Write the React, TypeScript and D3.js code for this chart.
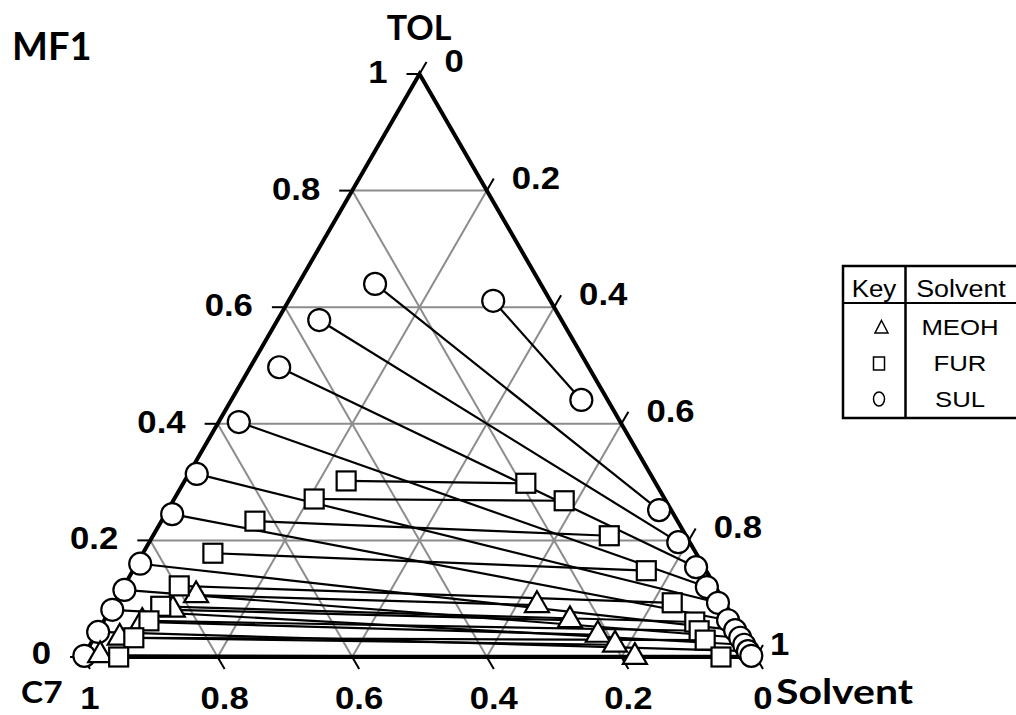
import React from "react";
import * as d3 from "d3";

// ternary compositions [TOL fraction, Solvent fraction]
const meohRaffinate: [number, number][] = [[0.106, 0.115], [0.081, 0.093], [0.060, 0.058], [0.033, 0.038], [0.003, 0.024]];
const meohExtract: [number, number][] = [[0.089, 0.630], [0.063, 0.692], [0.038, 0.746], [0.021, 0.780], [0.0, 0.820]];

const furRaffinate: [number, number][] = [[0.302, 0.240], [0.271, 0.208], [0.233, 0.139], [0.178, 0.104], [0.122, 0.082], [0.087, 0.072], [0.062, 0.067], [0.033, 0.059], [0.0, 0.053]];
const furExtract: [number, number][] = [[0.298, 0.509], [0.268, 0.581], [0.208, 0.678], [0.148, 0.763], [0.093, 0.829], [0.060, 0.879], [0.045, 0.893], [0.029, 0.910], [0.0, 0.948]];

const sulRaffinate: [number, number][] = [[0.611, 0.304], [0.640, 0.114], [0.578, 0.062], [0.497, 0.043], [0.403, 0.030], [0.314, 0.012], [0.245, 0.010], [0.160, 0.005], [0.115, 0.004], [0.081, 0.003], [0.043, 0.001], [0.002, 0.001]];
const sulExtract: [number, number][] = [[0.441, 0.520], [0.252, 0.730], [0.197, 0.786], [0.154, 0.834], [0.120, 0.867], [0.093, 0.897], [0.063, 0.927], [0.046, 0.946], [0.033, 0.960], [0.021, 0.972], [0.010, 0.983], [0.002, 0.992]];

const gridValues = [0.2, 0.4, 0.6, 0.8];
const tickValues = [0, 0.2, 0.4, 0.6, 0.8, 1];
const tickLabels = ["0", "0.2", "0.4", "0.6", "0.8", "1"];

const legendHeader = ["Key", "Solvent"];
const legendSolvents = ["MEOH", "FUR", "SUL"];

const W = 1016, Hh = 715;
const xScale = d3.scaleLinear().domain([0, 1]).range([83, 756]);
const yScale = d3.scaleLinear().domain([0, 1]).range([657, 74]);

const P = (t: number, s: number): [number, number] => [xScale(s + t / 2), yScale(t)];

const NUM_FONT = "'Liberation Sans', Arial, sans-serif";
const TITLE_FONT = "Lato, 'Open Sans', sans-serif";
const SX = 1.12;

function T(props: { x: number; y: number; text: string; size: number; anchor?: string; font?: string; weight?: string | number; sx?: number }) {
  const { x, y, text, size, anchor = "start", font = NUM_FONT, weight = "bold", sx = SX } = props;
  return (
    <text transform={`translate(${x},${y}) scale(${sx},1)`} fontSize={size} fontFamily={font} fontWeight={weight} textAnchor={anchor} fill="#000">
      {text}
    </text>
  );
}

function Triangle({ cx, cy, side, sw }: { cx: number; cy: number; side: number; sw: number }) {
  const h = (side * Math.sqrt(3)) / 2;
  const d = `M${cx},${cy - (2 * h) / 3}L${cx + side / 2},${cy + h / 3}L${cx - side / 2},${cy + h / 3}Z`;
  return <path d={d} fill="#fff" stroke="#000" strokeWidth={sw} strokeLinejoin="miter" />;
}

export default function App() {
  const line = d3.line();
  const outline = line([P(1, 0), P(0, 0), P(0, 1)]) + "Z";

  const grid: [number, number][][] = [];
  gridValues.forEach((v) => {
    grid.push([P(v, 0), P(v, 1 - v)]); // const TOL
    grid.push([P(0, v), P(1 - v, v)]); // const solvent
    grid.push([P(0, 1 - v), P(1 - v, 0)]); // const C7
  });

  const tieLines: [number, number][][] = [];
  [[sulRaffinate, sulExtract], [meohRaffinate, meohExtract], [furRaffinate, furExtract]].forEach(([r, e]) => {
    r.forEach((p, i) => tieLines.push([P(p[0], p[1]), P(e[i][0], e[i][1])]));
  });

  const circles = [...sulRaffinate, ...sulExtract].map((p) => P(p[0], p[1]));
  const tris = [...meohRaffinate, ...meohExtract].map((p) => P(p[0], p[1]));
  const squares = [...furRaffinate, ...furExtract].map((p) => P(p[0], p[1]));

  return (
    <svg width={W} height={Hh} style={{ position: "absolute", left: 0, top: 0, background: "#fff" }}>
      {/* grid */}
      {grid.map((g, i) => (
        <path key={"g" + i} d={line(g) || ""} stroke="#8c8c8c" strokeWidth={2} fill="none" />
      ))}
      {/* ticks */}
      {tickValues.map((v, i) => {
        const [x, y] = P(v, 0);
        return <line key={"lt" + i} x1={x} y1={y} x2={x - 13} y2={y} stroke="#000" strokeWidth={2} />;
      })}
      {tickValues.map((v, i) => {
        const [x, y] = P(1 - v, v);
        return <line key={"rt" + i} x1={x} y1={y} x2={x + 7} y2={y - 12} stroke="#000" strokeWidth={2} />;
      })}
      {tickValues.map((v, i) => {
        const [x, y] = P(0, 1 - v);
        return <line key={"bt" + i} x1={x} y1={y} x2={x + 7} y2={y + 12} stroke="#000" strokeWidth={2} />;
      })}
      <path d={outline} fill="none" stroke="#000" strokeWidth={4} strokeLinejoin="miter" />

      {/* tick labels */}
      {tickValues.map((v, i) => {
        const [x, y] = P(v, 0);
        return <T key={"ll" + i} x={x - 32} y={y + (v === 0 ? 7 : 9)} text={tickLabels[i]} size={31} anchor="end" />;
      })}
      {tickValues.map((v, i) => {
        const [x, y] = P(1 - v, v);
        return <T key={"rl" + i} x={x + (v === 1 ? 14 : 25)} y={y - 2} text={tickLabels[i]} size={31} anchor="start" />;
      })}
      {tickValues.map((v, i) => {
        const [x] = P(0, 1 - v);
        return <T key={"bl" + i} x={x + 7} y={709} text={tickLabels[i]} size={31} anchor="middle" />;
      })}

      {/* axis titles */}
      <T x={12} y={60} text="MF1" size={38} font={TITLE_FONT} sx={1} />
      <T x={419} y={40} text="TOL" size={34} font={TITLE_FONT} anchor="middle" sx={1} />
      <T x={21} y={703} text="C7" size={31} font={TITLE_FONT} sx={1.08} />
      <T x={776} y={704} text="Solvent" size={35} font={TITLE_FONT} sx={1.17} />

      {/* tie lines */}
      {tieLines.map((l, i) => (
        <path key={"tl" + i} d={line(l) || ""} stroke="#000" strokeWidth={2.2} fill="none" />
      ))}

      {/* markers */}
      {circles.map(([x, y], i) => (
        <circle key={"c" + i} cx={x} cy={y} r={11} fill="#fff" stroke="#000" strokeWidth={2.2} />
      ))}
      {tris.map(([x, y], i) => (
        <Triangle key={"t" + i} cx={x} cy={y} side={24} sw={2.2} />
      ))}
      {squares.map(([x, y], i) => (
        <rect key={"s" + i} x={x - 9.5} y={y - 9.5} width={19} height={19} fill="#fff" stroke="#000" strokeWidth={2.2} />
      ))}

      {/* legend */}
      <g>
        <rect x={843} y={266} width={200} height={152} fill="#fff" stroke="#000" strokeWidth={2.5} />
        <line x1={842} y1={303} x2={1016} y2={303} stroke="#000" strokeWidth={2} />
        <line x1={905.5} y1={266} x2={905.5} y2={418} stroke="#000" strokeWidth={2.5} />
        <T x={874} y={297} text={legendHeader[0]} size={24} anchor="middle" weight="normal" sx={1.08} />
        <T x={961} y={297} text={legendHeader[1]} size={24} anchor="middle" weight="normal" sx={1.12} />
        {legendSolvents.map((s, i) => (
          <T key={"ls" + i} x={960} y={[335, 371, 407][i]} text={s} size={23} anchor="middle" weight="normal" sx={1.12} />
        ))}
        <path d="M881.5,320.5L888,333L875,333Z" fill="none" stroke="#000" strokeWidth={1.5} />
        <rect x={873.5} y={357} width={11} height={13} fill="none" stroke="#000" strokeWidth={1.5} />
        <ellipse cx={879} cy={399} rx={5.5} ry={7} fill="none" stroke="#000" strokeWidth={1.5} />
      </g>
    </svg>
  );
}
